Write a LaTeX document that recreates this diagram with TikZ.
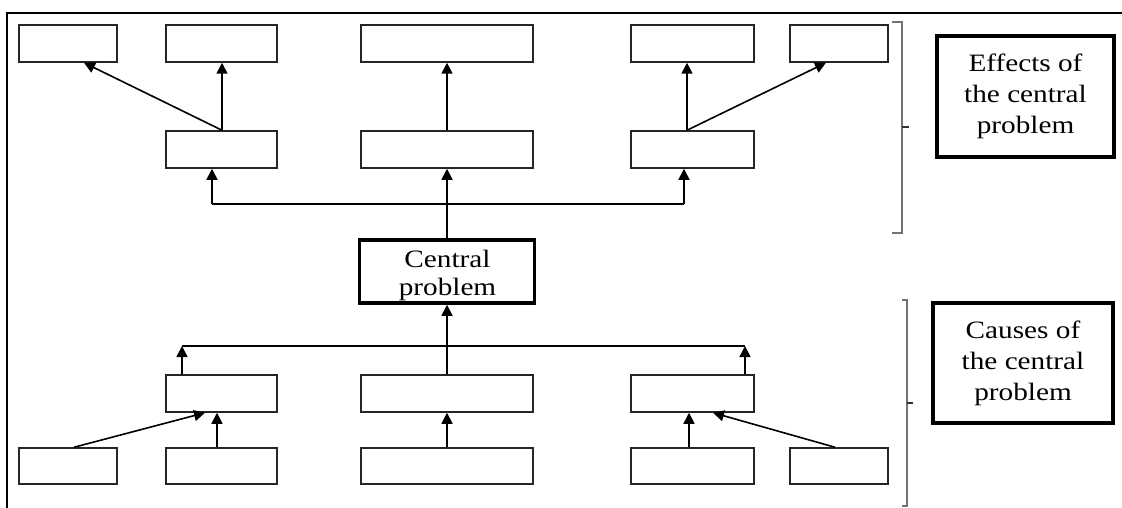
\documentclass[tikz,border=0pt]{standalone}
\usepackage{fontspec}
\setmainfont{Liberation Serif}[FakeStretch=1.17]
\usetikzlibrary{arrows.meta,calc}
\tikzset{
  box/.style={draw=black!85, line width=1.5pt, inner sep=0pt, minimum height=37pt},
  wbox/.style={box, minimum width=111pt},
  nbox/.style={box, minimum width=98pt},
  cbox/.style={box, minimum width=172pt},
  dbox/.style={box, minimum width=123pt},
  thickbox/.style={draw=black, line width=4pt, inner sep=0pt, align=center,
     font=\fontsize{25}{31}\selectfont},
  txt/.style={inner sep=0pt, align=center},
  arr/.style={line width=1.6pt, -{Triangle[width=11pt,length=11pt]}},
  ln/.style={line width=1.6pt},
  brk/.style={draw=black!55, line width=2pt},
}
\begin{document}
\begin{tikzpicture}[x=1pt,y=-1pt]
\useasboundingbox (0,0) rectangle (1122,508);
% outer frame
\draw[line width=2pt] (7,508) -- (7,13) -- (1122,13);
% top row
\node[nbox] (A) at (68,43.5) {};
\node[wbox] (B) at (221.5,43.5) {};
\node[cbox] (C) at (447,43.5) {};
\node[dbox] (D) at (692.5,43.5) {};
\node[nbox] (E) at (839,43.5) {};
% middle effects row
\node[wbox] (F) at (221.5,149.5) {};
\node[cbox] (G) at (447,149.5) {};
\node[dbox] (H) at (692.5,149.5) {};
% central
\node[draw=black, line width=3.5pt, inner sep=0pt, minimum width=175pt, minimum height=63pt] (P0) at (447,271.5) {};
\node[txt, font=\fontsize{25}{28}\selectfont] (P0t) at (447.5,275) {Central\\problem};
% causes rows
\node[wbox] (I) at (221.5,393.5) {};
\node[cbox] (J) at (447,393.5) {};
\node[dbox] (K) at (692.5,393.5) {};
\node[nbox, minimum height=36pt] (L) at (68,466) {};
\node[wbox, minimum height=36pt] (M) at (221.5,466) {};
\node[cbox, minimum height=36pt] (N) at (447,466) {};
\node[dbox, minimum height=36pt] (O) at (692.5,466) {};
\node[nbox, minimum height=36pt] (Q) at (839,466) {};
% legend boxes
\node[thickbox, minimum width=177pt, minimum height=121pt] (eff) at (1025.5,96.5)
  {Effects of\\the central\\problem};
\node[thickbox, minimum width=180pt, minimum height=120pt] (cau) at (1023,363)
  {Causes of\\the central\\problem};
% effect arrows
\draw[arr] ([xshift=0.5pt]F.north) -- ([xshift=16pt]A.south);
\draw[arr] ([xshift=0.5pt]F.north) -- ([xshift=0.5pt]B.south);
\draw[arr] (G.north) -- (C.south);
\draw[arr] ([xshift=-5.5pt]H.north) -- ([xshift=-5.5pt]D.south);
\draw[arr] ([xshift=-5.5pt]H.north) -- ([xshift=-13pt]E.south);
\coordinate (eL) at (212,204);
\coordinate (eR) at (684,204);
\draw[ln] (eL) -- (eR);
\draw[arr] (eL) -- (eL |- F.south);
\draw[arr] (eR) -- (eR |- H.south);
\draw[arr] (P0.north) -- (P0.north |- G.south);
% cause arrows
\coordinate (cL) at (182,346);
\coordinate (cR) at (745,346);
\draw[ln] (cL) -- (cR);
\draw[arr] (cL |- I.north) -- (cL);
\draw[arr] (cR |- K.north) -- (cR);
\draw[arr] (J.north) -- (J.north |- P0.south);
\draw[arr] ([xshift=6pt]L.north) -- ([xshift=-16.5pt]I.south);
\draw[arr] ([xshift=-4.5pt]M.north) -- ([xshift=-4.5pt]I.south);
\draw[arr] (N.north) -- (J.south);
\draw[arr] ([xshift=-3.5pt]O.north) -- ([xshift=-3.5pt]K.south);
\draw[arr] ([xshift=-4pt]Q.north) -- ([xshift=20.5pt]K.south);
% brackets
\draw[brk] (892,22) -- (902,22) -- (902,233) -- (892,233);
\draw[brk, draw=black!80] (902,127) -- (909,127);
\draw[brk] (902,300) -- (907,300) -- (907,506) -- (902,506);
\draw[brk, draw=black!80] (907,403) -- (913,403);
\end{tikzpicture}
\end{document}
